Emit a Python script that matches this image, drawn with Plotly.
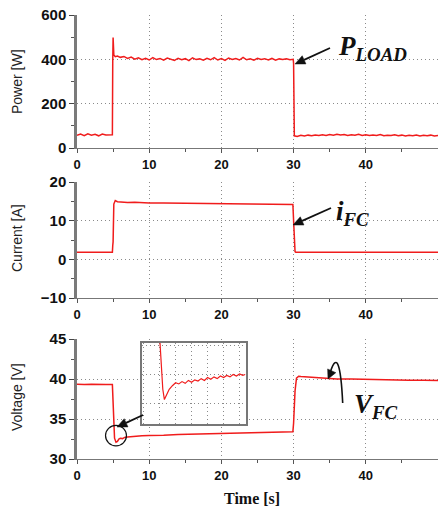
import math
import plotly.graph_objects as go

# ---------------- data ----------------
power_t = [0.0, 0.5, 1.0, 1.5, 2.0, 2.5, 3.0, 3.5, 4.0, 4.5, 4.9,
           4.95, 5.0, 5.1, 5.3, 5.6, 6.0,
           6.5, 7.0, 7.5, 8.0, 8.5, 9.0, 9.5, 10.0, 10.5, 11.0,
           11.5, 12.0, 12.5, 13.0, 13.5, 14.0, 14.5, 15.0, 15.5, 16.0,
           16.5, 17.0, 17.5, 18.0, 18.5, 19.0, 19.5, 20.0, 20.5, 21.0,
           21.5, 22.0, 22.5, 23.0, 23.5, 24.0, 24.5, 25.0, 25.5, 26.0,
           26.5, 27.0, 27.5, 28.0, 28.5, 29.0, 29.5,
           29.95, 30.0, 30.1,
           30.5, 31.0, 31.5, 32.0, 32.5, 33.0, 33.5, 34.0, 34.5, 35.0,
           35.5, 36.0, 36.5, 37.0, 37.5, 38.0, 38.5, 39.0, 39.5, 40.0,
           40.5, 41.0, 41.5, 42.0, 42.5, 43.0, 43.5, 44.0, 44.5, 45.0,
           45.5, 46.0, 46.5, 47.0, 47.5, 48.0, 48.5, 49.0, 49.5, 50.0]
power_w = [57, 63, 56, 64, 58, 62, 55, 63, 59, 61, 60,
           390, 498, 420, 412, 415, 409,
           413, 404, 410, 401, 407, 398, 405, 397, 408, 399,
           404, 396, 406, 400, 395, 405, 398, 403, 394, 407,
           399, 402, 396, 405, 398, 408, 397, 403, 395, 406,
           399, 404, 397, 409, 398, 402, 396, 405, 399, 403,
           397, 404, 396, 402, 399, 403, 398,
           400, 380, 55,
           52, 57, 54, 58, 55, 59, 56, 60, 57, 61,
           58, 62, 59, 61, 57, 60, 58, 62, 57, 60,
           56, 59, 57, 61, 55, 58, 56, 60, 55, 58,
           54, 57, 55, 59, 54, 57, 55, 58, 54, 56]

current_t = [0, 4.9, 4.95, 5.0, 5.1, 5.3, 5.6, 6.0, 7, 8, 9, 10, 12, 14, 16, 17, 18, 20,
             22, 24, 26, 28, 29.9, 30.0, 30.1, 30.2, 30.3, 35, 40, 45, 50]
current_a = [1.8, 1.8, 3.5, 4.5, 14.3, 15.2, 14.9, 14.8, 14.7, 14.75, 14.6, 14.6, 14.55,
             14.5, 14.4, 14.5, 14.4, 14.4, 14.35, 14.3, 14.25, 14.2, 14.2, 10.0, 4.0, 2.0,
             1.8, 1.8, 1.8, 1.8, 1.8]

voltage_t = [0, 1, 2, 3, 4, 4.9, 5.0, 5.1, 5.2, 5.4, 5.6, 5.8, 6.0, 6.3, 6.6, 7, 8, 9, 10,
             11, 12, 14, 16, 18, 20, 22, 24, 26, 28, 29.9, 30.0, 30.1, 30.2, 30.4, 30.7,
             31, 32, 34, 36, 38, 40, 42, 44, 46, 48, 50]
voltage_v = [39.35, 39.3, 39.35, 39.3, 39.3, 39.3, 37.0, 34.0, 32.6, 32.1, 32.2, 32.5, 32.6,
             32.55, 32.7, 32.75, 32.85, 32.9, 32.95, 33.0, 32.98, 33.05, 33.1, 33.15, 33.2,
             33.22, 33.28, 33.3, 33.35, 33.4, 34.5, 36.5, 38.5, 40.1, 40.35, 40.3, 40.25,
             40.1, 40.0, 40.0, 39.95, 39.9, 39.9, 39.85, 39.85, 39.8]

# zoomed view of the voltage dip (inset, relative units)
inset_t = [0.0, 0.1, 0.2, 0.3, 0.45, 0.6, 0.8, 1.0, 1.2, 1.4, 1.6, 1.8, 2.0, 2.2, 2.4, 2.6,
           2.8, 3.0, 3.2, 3.4, 3.6, 3.8, 4.0, 4.2, 4.4, 4.6, 4.8, 5.0, 5.2, 5.35]
inset_v = [2.3, 1.2, 0.5, 0.15, 0.3, 0.5, 0.62, 0.72, 0.68, 0.76, 0.7, 0.8, 0.74, 0.82, 0.78,
           0.86, 0.8, 0.9, 0.84, 0.92, 0.86, 0.95, 0.9, 0.97, 0.92, 1.0, 0.95, 1.02, 0.97, 1.0]

x_ticks = [0, 10, 20, 30, 40]
power_ticks = [0, 200, 400, 600]
current_ticks = [-10, 0, 10, 20]
voltage_ticks = [30, 35, 40, 45]

# ---------------- figure ----------------
RED = "#f01c1c"
W, H = 438, 511
ML, MR, MT, MB = 77, 0, 15, 52
PW, PH = W - ML - MR, H - MT - MB


def px_x(p):
    return (p - ML) / PW


def px_y(p):
    return (H - MB - p) / PH


fig = go.Figure()
fig.add_trace(go.Scatter(x=power_t, y=power_w, mode="lines",
                         line=dict(color=RED, width=1.5), xaxis="x", yaxis="y"))
fig.add_trace(go.Scatter(x=current_t, y=current_a, mode="lines",
                         line=dict(color=RED, width=1.5), xaxis="x2", yaxis="y2"))
fig.add_trace(go.Scatter(x=voltage_t, y=voltage_v, mode="lines",
                         line=dict(color=RED, width=1.5), xaxis="x3", yaxis="y3"))
fig.add_trace(go.Scatter(x=inset_t, y=inset_v, mode="lines",
                         line=dict(color=RED, width=1.2), xaxis="x4", yaxis="y4"))

tickfont = dict(family="Liberation Sans, Arial", size=15, color="#111", weight="bold")
grid = dict(showgrid=True, gridcolor="#8a8a8a", griddash="1px,3px", gridwidth=1)

xcommon = dict(range=[0, 50], tickmode="array", tickvals=x_ticks,
               ticks="outside", ticklen=4, tickcolor="#555", tickwidth=1,
               showline=True, linecolor="#777", linewidth=1,
               tickfont=dict(family="Liberation Sans, Arial", size=13, color="#111", weight="bold"),
               minor=dict(tickmode="linear", tick0=0, dtick=5, ticks="outside", ticklen=3,
                          tickcolor="#555", showgrid=False),
               zeroline=False, **grid)


def ycommon(rng, vals, minor_d):
    return dict(range=rng, tickmode="array", tickvals=vals,
                ticks="outside", ticklen=5, tickcolor="#444", tickwidth=1,
                showline=True, linecolor="#7a7a7a", linewidth=2.5,
                tickfont=tickfont,
                minor=dict(tickmode="linear", tick0=rng[0], dtick=minor_d, ticks="outside",
                           ticklen=3, tickcolor="#555", showgrid=False),
                zeroline=False, **grid)


d1 = [px_y(148), px_y(15)]
d2 = [px_y(298), px_y(182)]
d3 = [px_y(459), px_y(339)]

fig.update_layout(
    width=W, height=H, margin=dict(l=ML, r=MR, t=MT, b=MB),
    paper_bgcolor="white", plot_bgcolor="white", showlegend=False,
    xaxis=dict(domain=[0, 1], anchor="y", **xcommon),
    yaxis=dict(domain=d1, anchor="x", **ycommon([0, 600], power_ticks, 100)),
    xaxis2=dict(domain=[0, 1], anchor="y2", **xcommon),
    yaxis2=dict(domain=d2, anchor="x2", **ycommon([-10, 20], current_ticks, 5)),
    xaxis3=dict(domain=[0, 1], anchor="y3", **xcommon),
    yaxis3=dict(domain=d3, anchor="x3", **ycommon([30, 45], voltage_ticks, 2.5)),
    xaxis4=dict(domain=[px_x(142), px_x(246)], anchor="y4", range=[-1.1, 5.4],
                tickmode="linear", tick0=0, dtick=1, showticklabels=False, ticks="",
                showline=True, mirror=True, linecolor="#777", linewidth=1.5,
                zeroline=False, **grid),
    yaxis4=dict(domain=[px_y(424), px_y(343)], anchor="x4", range=[-0.68, 2.07],
                tickmode="linear", tick0=0, dtick=1, showticklabels=False, ticks="",
                showline=True, mirror=True, linecolor="#777", linewidth=1.5,
                zeroline=False, **grid),
)

serif = "Liberation Serif, Times New Roman"
ann = []
# axis titles
for txt, yc in [("Power [W]", 82), ("Current [A]", 238), ("Voltage [V]", 397)]:
    ann.append(dict(text=txt, xref="paper", yref="paper", x=px_x(17), y=px_y(yc),
                    textangle=-90, showarrow=False, xanchor="center", yanchor="middle",
                    font=dict(family="Liberation Sans, Arial", size=14, color="#222")))
ann.append(dict(text="<b>Time [s]</b>", xref="paper", yref="paper", x=px_x(252), y=px_y(498),
                showarrow=False, xanchor="center", yanchor="middle",
                font=dict(family=serif, size=16, color="#111")))
# signal labels
ann.append(dict(text="<b><i>P<sub>LOAD</sub></i></b>", xref="paper", yref="paper",
                x=px_x(372), y=px_y(48), showarrow=False, xanchor="center", yanchor="middle",
                font=dict(family=serif, size=27, color="#111")))
ann.append(dict(text="<b><i>i<sub>FC</sub></i></b>", xref="paper", yref="paper",
                x=px_x(352), y=px_y(213), showarrow=False, xanchor="center", yanchor="middle",
                font=dict(family=serif, size=27, color="#111")))
ann.append(dict(text="<b><i>V<sub>FC</sub></i></b>", xref="paper", yref="paper",
                x=px_x(376), y=px_y(406), showarrow=False, xanchor="center", yanchor="middle",
                font=dict(family=serif, size=27, color="#111")))
fig.update_layout(annotations=ann)


# arrows drawn as shapes (shaft + filled head), given in page pixels
def add_arrow(tail, head, L=10, hw=4.5, shaft=True):
    tx, ty = tail
    hx, hy = head
    d = math.hypot(hx - tx, hy - ty)
    ux, uy = (hx - tx) / d, (hy - ty) / d
    bx, by = hx - ux * L, hy - uy * L
    nx, ny = -uy, ux
    if shaft:
        fig.add_shape(type="line", xref="paper", yref="paper",
                      x0=px_x(tx), y0=px_y(ty), x1=px_x(bx), y1=px_y(by),
                      line=dict(color="#111", width=1.8))
    p1 = (px_x(hx), px_y(hy))
    p2 = (px_x(bx + nx * hw), px_y(by + ny * hw))
    p3 = (px_x(bx - nx * hw), px_y(by - ny * hw))
    fig.add_shape(type="path", xref="paper", yref="paper",
                  path=f"M {p1[0]},{p1[1]} L {p2[0]},{p2[1]} L {p3[0]},{p3[1]} Z",
                  fillcolor="#111", line=dict(color="#111", width=0.5))


add_arrow((330, 48), (295, 64))
add_arrow((331, 208), (293, 225))
add_arrow((143, 415), (117, 427))
add_arrow((333, 368), (328, 379), L=9, hw=4.5, shaft=False)

fig.add_shape(type="circle", xref="x3", yref="y3", x0=3.95, x1=6.85, y0=31.65, y1=34.2,
              line=dict(color="#111", width=1.2))
fig.add_shape(type="path", xref="x3", yref="y3",
              path="M 36.8,37.0 Q 36.4,44.5 35.1,40.9",
              line=dict(color="#111", width=1.6))

fig.write_html("out.html", config={"displayModeBar": False},
               post_script="document.body.style.margin='0';")
